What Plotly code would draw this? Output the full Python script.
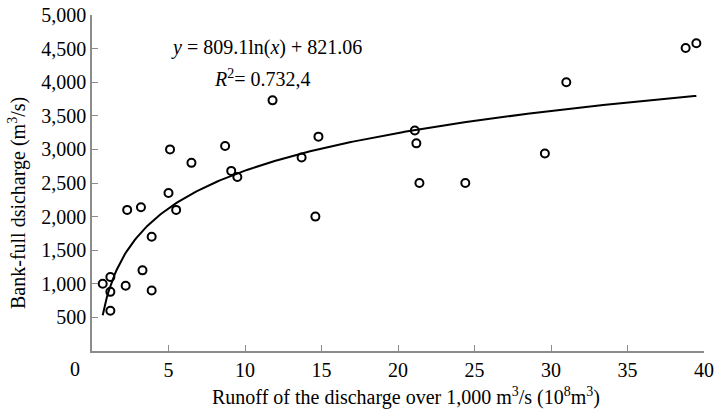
import numpy as np
import plotly.graph_objects as go

# runoff of discharge > 1,000 m3/s (10^8 m3) and bank-full discharge (m3/s)
runoff = [0.7, 1.2, 1.2, 1.2, 2.2, 2.3, 3.2, 3.3, 3.9, 3.9,
          5.0, 5.5, 5.1, 6.5, 8.7, 9.1, 9.5, 11.8, 13.7, 14.8,
          14.6, 21.1, 21.2, 21.4, 24.4, 29.6, 31.0, 38.8, 39.5]
bankfull = [1000, 1100, 880, 600, 970, 2100, 2140, 1200, 900, 1700,
            2350, 2100, 3000, 2800, 3050, 2680, 2590, 3730, 2880, 3190,
            2000, 3280, 3090, 2500, 2500, 2940, 4000, 4510, 4580]

# logarithmic fit shown on the chart
fit_a = 809.1
fit_b = 821.06
fit_x_start = 0.7
fit_x_end = 39.5

x_ticks = [5, 10, 15, 20, 25, 30, 35, 40]
y_ticks = [500, 1000, 1500, 2000, 2500, 3000, 3500, 4000, 4500, 5000]

FONT = "Liberation Serif, Times New Roman, serif"
AXIS = "#8c8c8c"

fx = np.linspace(fit_x_start, fit_x_end, 300)
fy = fit_a * np.log(fx) + fit_b

fig = go.Figure()
fig.add_trace(go.Scatter(
    x=fx, y=fy, mode="lines",
    line=dict(color="black", width=2),
    hoverinfo="skip", showlegend=False,
))
fig.add_trace(go.Scatter(
    x=runoff, y=bankfull, mode="markers",
    marker=dict(symbol="circle-open", size=8, color="black",
                line=dict(color="black", width=2)),
    showlegend=False,
))

fig.update_layout(
    width=714, height=411,
    margin=dict(l=92, r=10, t=15, b=60),
    paper_bgcolor="white", plot_bgcolor="white",
    font=dict(family=FONT, size=20, color="black"),
    xaxis=dict(
        range=[0, 40], tickvals=x_ticks, showgrid=False, zeroline=False,
        showline=True, linecolor=AXIS, linewidth=1.5, automargin=False,
        ticks="inside", ticklen=6, tickcolor=AXIS, tickwidth=1.2,
    ),
    yaxis=dict(
        range=[0, 5000], tickvals=y_ticks, tickformat=",", showgrid=False,
        zeroline=False, showline=True, linecolor=AXIS, linewidth=1.5,
        automargin=False,
        ticks="inside", ticklen=6, tickcolor=AXIS, tickwidth=1.2,
    ),
    annotations=[
        dict(text="0", x=75, y=369, showarrow=False),
        dict(text="<i>y</i> = 809.1ln(<i>x</i>) + 821.06",
             x=266, y=47, showarrow=False),
        dict(text="<i>R</i><sup>2</sup>= 0.732,4",
             x=262, y=78, showarrow=False),
        dict(text="Runoff of the discharge over 1,000 m<sup>3</sup>/s (10<sup>8</sup>m<sup>3</sup>)",
             x=406, y=396, showarrow=False),
        dict(text="Bank-full dsicharge (m<sup>3</sup>/s)",
             x=17, y=203, textangle=-90, showarrow=False),
    ],
)

# annotation positions above are given in pixels; convert to paper coords
W, H = 714, 411
l, r, t, b = 92, 10, 15, 60
pw, ph = W - l - r, H - t - b
for ann in fig.layout.annotations:
    ann.xref = "paper"
    ann.yref = "paper"
    ann.x = (ann.x - l) / pw
    ann.y = (H - b - ann.y) / ph
    ann.xanchor = "center"
    ann.yanchor = "middle"

fig.write_html("out.html", config={"displayModeBar": False},
               post_script="document.body.style.margin='0';")
